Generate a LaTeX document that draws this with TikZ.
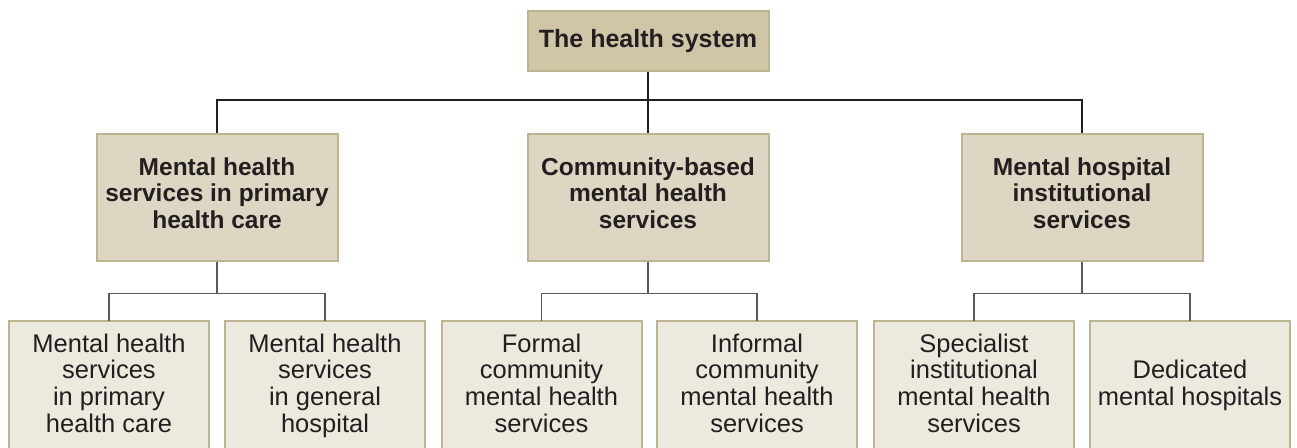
\documentclass[tikz,border=0pt]{standalone}
\usepackage{fontspec}
\setmainfont{Liberation Sans}
\setlength{\lineskiplimit}{-50pt}
\definecolor{ink}{HTML}{231F20}
\definecolor{wire}{HTML}{5A5A5A}
\definecolor{box edge}{HTML}{BDB58F}
\definecolor{sys area}{HTML}{CFC5A7}
\definecolor{tier area}{HTML}{DDD6C3}
\definecolor{leaf area}{HTML}{ECE9DF}
\tikzset{
  sysbox/.style={fill=sys area, draw=box edge, line width=2pt, minimum width=241pt,
    minimum height=60pt, text=ink, font=\fontsize{25}{27}\selectfont\bfseries},
  tierbox/.style={fill=tier area, draw=box edge, line width=2pt, minimum width=241pt,
    minimum height=127pt, align=center, text=ink, font=\fontsize{24.5}{26.7}\selectfont\bfseries,
    execute at begin node=\strut, execute at end node=\strut},
  rim/.style={draw=box edge, line width=2pt, line cap=rect},
  leaf/.style={fill=leaf area, outer sep=0pt, minimum width=200pt, minimum height=132pt,
    align=center, text=ink, font=\fontsize{25.5}{26.7}\selectfont,
    execute at begin node=\strut, execute at end node=\strut,
    append after command={
      (\tikzlastnode.south west) edge[rim] (\tikzlastnode.north west)
      (\tikzlastnode.north west) edge[rim] (\tikzlastnode.north east)
      (\tikzlastnode.north east) edge[rim] (\tikzlastnode.south east)}},
  trunk/.style={draw=ink, line width=1.3pt},
  branch/.style={draw=wire, line width=1.8pt}
}
\begin{document}
\begin{tikzpicture}[x=1pt, y=-1pt]
    \useasboundingbox (0,0) rectangle (1297,447);
    \node[sysbox] (health) at (648,41) {The health system};
    \node[tierbox] (phc) at (217,197) {Mental health\\services in primary\\health care};
    \node[tierbox] (cmh) at (648,197) {Community-based\\mental health\\services};
    \node[tierbox] (mhi) at (1082,197) {Mental hospital\\institutional\\services};
    % bottom row, cut off by the page edge
    \node[leaf] (pc) at (109,387) {Mental health\\services\\in primary\\health care};
    \node[leaf] (gh) at (325,387) {Mental health\\services\\in general\\hospital};
    \node[leaf] (fc) at (541.5,387) {Formal\\community\\mental health\\services};
    \node[leaf] (ic) at (757,387) {Informal\\community\\mental health\\services};
    \node[leaf] (si) at (974,387) {Specialist\\institutional\\mental health\\services};
    \node[leaf] (dh) at (1190,387) {Dedicated\\mental hospitals};
    \draw[trunk] (health.south) -- ++(0,28) -| (phc.north);
    \draw[trunk] (health.south) -- ++(0,28) -| (cmh.north);
    \draw[trunk] (health.south) -- ++(0,28) -| (mhi.north);
    \draw[branch] (phc.south) -- ++(0,32) -| (pc.north);
    \draw[branch] (phc.south) -- ++(0,32) -| (gh.north);
    \draw[branch] (cmh.south) -- ++(0,32) -| (fc.north);
    \draw[branch] (cmh.south) -- ++(0,32) -| (ic.north);
    \draw[branch] (mhi.south) -- ++(0,32) -| (si.north);
    \draw[branch] (mhi.south) -- ++(0,32) -| (dh.north);
\end{tikzpicture}
\end{document}
